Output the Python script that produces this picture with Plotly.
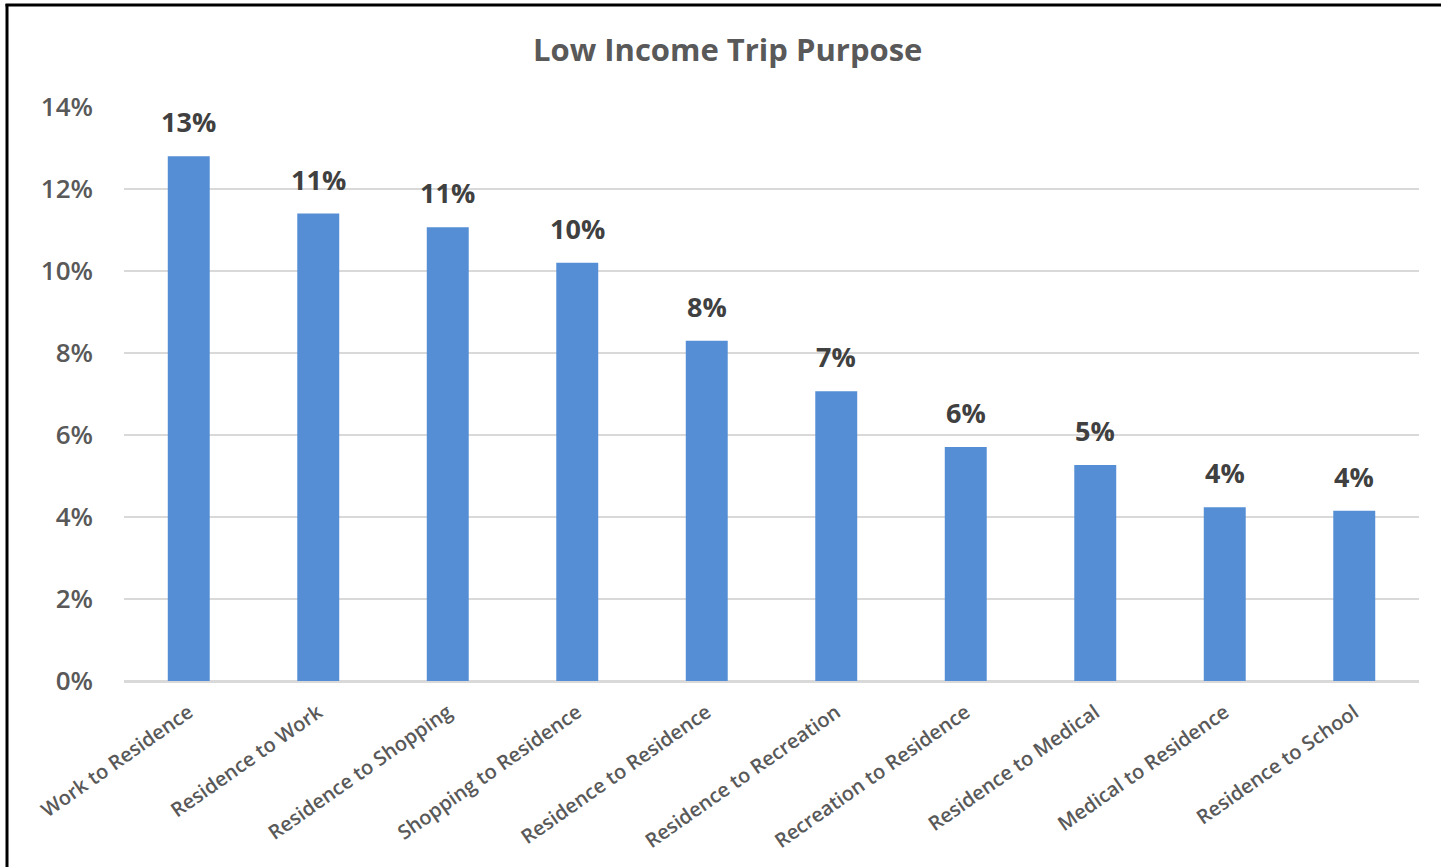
import plotly.graph_objects as go

categories = ["Work to Residence", "Residence to Work", "Residence to Shopping",
              "Shopping to Residence", "Residence to Residence", "Residence to Recreation",
              "Recreation to Residence", "Residence to Medical", "Medical to Residence",
              "Residence to School"]
values = [0.128, 0.114, 0.1107, 0.102, 0.083, 0.0707, 0.0571, 0.0527, 0.0424, 0.0415]
y_ticks = [0, 0.02, 0.04, 0.06, 0.08, 0.10, 0.12, 0.14]

W, H = 1441, 867
L, R, T, B = 124, 22, 107, 186
pw, ph = W - L - R, H - T - B

def px_x(p):
    return (p - L) / pw

def px_y(p):
    return (H - B - p) / ph

FONT = "Open Sans"
fig = go.Figure(go.Bar(
    x=categories, y=values,
    marker=dict(color="#558ED5", line=dict(width=0)),
    hovertemplate="%{x}: %{y:.1%}<extra></extra>",
))

annotations = [
    dict(x=c, y=v, xref="x", yref="y", text="<b>%d%%</b>" % round(v * 100),
         showarrow=False, yanchor="bottom", yshift=14,
         font=dict(family=FONT, size=27, color="#404040"))
    for c, v in zip(categories, values)
]

fig.update_layout(
    width=W, height=H,
    margin=dict(l=L, r=R, t=T, b=B, autoexpand=False),
    paper_bgcolor="white", plot_bgcolor="white",
    bargap=0.676,
    showlegend=False,
    annotations=annotations,
    title=dict(text="<b>Low Income Trip Purpose</b>", x=0.505, xref="container", xanchor="center",
               y=1 - 50 / H, yref="container", yanchor="middle",
               font=dict(family=FONT, size=31, color="#595959")),
    xaxis=dict(tickangle=-35, tickfont=dict(family=FONT, size=20, color="#595959", weight=600),
               showgrid=False, showline=True, linecolor="#D9D9D9", linewidth=2,
               ticks="", ticklabelstandoff=10, automargin=False),
    yaxis=dict(range=[0, 0.14], tickvals=y_ticks, tickformat=".0%",
               tickfont=dict(family=FONT, size=26, color="#595959", weight=600),
               showgrid=True, gridcolor="#D9D9D9", gridwidth=2,
               zeroline=True, zerolinecolor="#D9D9D9", zerolinewidth=2,
               showline=False, ticks="", ticklabelstandoff=30, automargin=False),
    shapes=[
        dict(type="line", xref="paper", yref="paper", x0=px_x(7), x1=px_x(7),
             y0=px_y(870), y1=px_y(4), line=dict(color="black", width=3)),
        dict(type="line", xref="paper", yref="paper", x0=px_x(5.5), x1=px_x(1445),
             y0=px_y(5), y1=px_y(5), line=dict(color="black", width=3)),
    ],
)

fig.write_html("out.html")
